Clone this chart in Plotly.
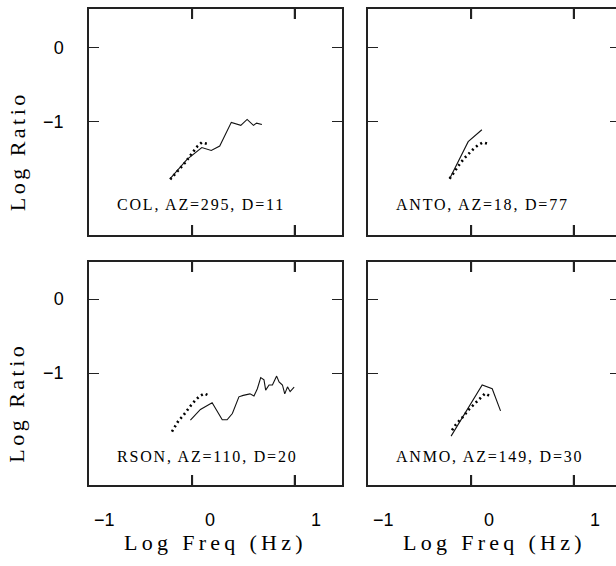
import plotly.graph_objects as go

# Observed spectral ratio (solid) and model ratio (dotted) per station
col_x = [-0.38, -0.22, -0.08, 0.01, 0.09, 0.20, 0.29, 0.35, 0.41, 0.44, 0.49]
col_y = [-1.77, -1.51, -1.35, -1.39, -1.33, -1.01, -1.05, -0.97, -1.05, -1.02, -1.04]
col_mx = [-0.38, -0.33, -0.29, -0.23, -0.19, -0.15, -0.12, -0.08, -0.03]
col_my = [-1.78, -1.70, -1.63, -1.54, -1.46, -1.39, -1.33, -1.28, -1.30]

anto_x = [-0.376, -0.20, -0.07]
anto_y = [-1.77, -1.27, -1.11]
anto_mx = [-0.376, -0.344, -0.31, -0.274, -0.233, -0.186, -0.148, -0.104, -0.06, -0.013]
anto_my = [-1.77, -1.70, -1.63, -1.56, -1.49, -1.42, -1.365, -1.315, -1.28, -1.30]

rson_x = [-0.188, -0.093, 0.018, 0.114, 0.16, 0.21, 0.272, 0.313, 0.377, 0.415, 0.447,
          0.479, 0.51, 0.526, 0.558, 0.59, 0.63, 0.653, 0.685, 0.707, 0.733, 0.758, 0.796]
rson_y = [-1.635, -1.49, -1.40, -1.63, -1.63, -1.545, -1.32, -1.30, -1.28, -1.31, -1.21,
          -1.06, -1.09, -1.23, -1.16, -1.16, -1.04, -1.12, -1.16, -1.28, -1.185, -1.25, -1.19]
rson_mx = [-0.363, -0.33, -0.30, -0.26, -0.22, -0.18, -0.14, -0.10, -0.055, -0.004]
rson_my = [-1.79, -1.72, -1.64, -1.58, -1.50, -1.43, -1.365, -1.31, -1.275, -1.31]

anmo_x = [-0.362, -0.067, 0.028, 0.107]
anmo_y = [-1.85, -1.16, -1.21, -1.51]
anmo_mx = [-0.353, -0.32, -0.28, -0.243, -0.20, -0.16, -0.12, -0.08, -0.04, 0.008]
anmo_my = [-1.77, -1.70, -1.635, -1.58, -1.50, -1.445, -1.39, -1.33, -1.275, -1.31]

stations = [
    ("COL, AZ=295, D=11", col_x, col_y, col_mx, col_my),
    ("ANTO, AZ=18, D=77", anto_x, anto_y, anto_mx, anto_my),
    ("RSON, AZ=110, D=20", rson_x, rson_y, rson_mx, rson_my),
    ("ANMO, AZ=149, D=30", anmo_x, anmo_y, anmo_mx, anmo_my),
]

x_ticks = [-1, 0, 1]
x_ticktext = ["\u22121", "0", "1"]
x_marks = [-0.17, 0.80]
y_ticks = [0, -1]
y_ticktext = ["0", "\u22121"]

W, H = 624, 566
serif = "Liberation Serif"
sans = "Liberation Sans"
axis_col = "#222"
tick_px = 10


def spaced(text, px):
    return "<span style='letter-spacing:%.1fpx'>%s</span>" % (px, text)


x_dom = [[89 / W, 342 / W], [368 / W, 620 / W]]
y_dom = [[1 - 235 / H, 1 - 9 / H], [1 - 485 / H, 1 - 262 / H]]
y_rng = [[-2.53, 0.52], [-2.51, 0.50]]
x_rng = [[-1.15, 1.25], [-1.15, 1.24]]

fig = go.Figure()

suffix = ["", "2", "3", "4"]
for i, (label, sx, sy, mx, my) in enumerate(stations):
    row, col = divmod(i, 2)
    s = suffix[i]
    fig.add_trace(go.Scatter(x=mx, y=my, mode="lines", xaxis="x" + s, yaxis="y" + s,
                             line=dict(color="black", width=2.6, dash="2px,3.2px"),
                             showlegend=False, hoverinfo="skip"))
    fig.add_trace(go.Scatter(x=sx, y=sy, mode="lines", xaxis="x" + s, yaxis="y" + s,
                             line=dict(color="#111", width=1.1),
                             showlegend=False, hoverinfo="skip"))
    fig.add_annotation(x=-0.9, y=-2.12, xref="x" + s, yref="y" + s,
                       text=spaced(label, 1.8),
                       showarrow=False, xanchor="left", yanchor="middle",
                       font=dict(family=serif, size=16, color="black"))

    # inward tick marks on the top and bottom frame edges
    lo, hi = y_rng[row]
    d = tick_px * (hi - lo) / ((y_dom[row][1] - y_dom[row][0]) * H)
    for v in x_marks:
        for y0, y1 in ((lo, lo + d), (hi, hi - d)):
            fig.add_trace(go.Scatter(x=[v, v], y=[y0, y1], mode="lines",
                                     xaxis="x" + s, yaxis="y" + s,
                                     line=dict(color=axis_col, width=1.6),
                                     showlegend=False, hoverinfo="skip"))

layout = dict(width=W, height=H, margin=dict(l=0, r=0, t=0, b=0),
              paper_bgcolor="white", plot_bgcolor="white", showlegend=False)

for i in range(4):
    row, col = divmod(i, 2)
    s = suffix[i]
    layout["xaxis" + s] = dict(
        domain=x_dom[col], range=x_rng[col], anchor="y" + s,
        tickmode="array", tickvals=x_marks, ticktext=["", ""],
        ticks="inside", ticklen=tick_px, tickwidth=1.5, tickcolor=axis_col,
        showticklabels=True,
        showline=True, linecolor=axis_col, linewidth=1.5, mirror="ticks",
        showgrid=False, zeroline=False)
    layout["yaxis" + s] = dict(
        domain=y_dom[row], range=y_rng[row], anchor="x" + s,
        tickmode="array", tickvals=y_ticks, ticktext=y_ticktext,
        ticks="inside", ticklen=tick_px, tickwidth=1.4, tickcolor=axis_col,
        showticklabels=(col == 0), ticklabelstandoff=20,
        tickfont=dict(family=sans, size=18, color="black"),
        showline=True, linecolor=axis_col, linewidth=1.5, mirror="ticks",
        showgrid=False, zeroline=False)

fig.update_layout(**layout)

# Frequency labels under the lower panels, and axis titles
for col in range(2):
    s = "3" if col == 0 else "4"
    for v, t in zip(x_ticks, x_ticktext):
        fig.add_annotation(x=v, y=1 - 520 / H, xref="x" + s, yref="paper", text=t,
                           showarrow=False, xanchor="center", yanchor="middle",
                           font=dict(family=sans, size=18, color="black"))
    fig.add_annotation(x=0.5, y=1 - 542 / H, xref="x" + s + " domain", yref="paper",
                       text=spaced("Log Freq (Hz)", 4.3), showarrow=False, xanchor="center",
                       yanchor="middle", font=dict(family=serif, size=22, color="black"))
for row in range(2):
    s = "" if row == 0 else "3"
    fig.add_annotation(x=17 / W, y=-1.40, xref="paper", yref="y" + s,
                       text=spaced("Log Ratio", 3.5),
                       textangle=-90, showarrow=False, xanchor="center", yanchor="middle",
                       font=dict(family=serif, size=22, color="black"))

fig.write_html("out.html")
